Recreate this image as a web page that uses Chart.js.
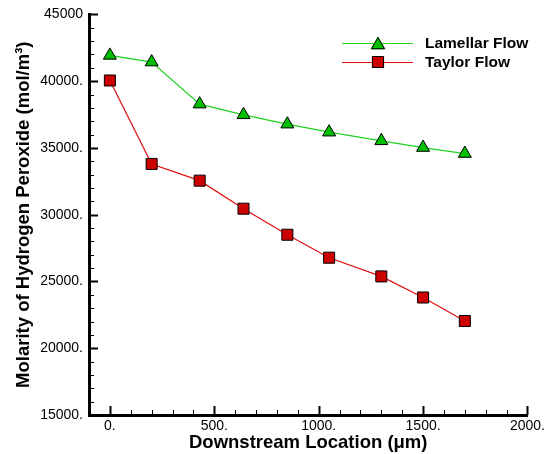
<!DOCTYPE html>
<html>
<head>
<meta charset="utf-8">
<script src="https://cdn.jsdelivr.net/npm/chart.js@4/dist/chart.umd.min.js"></script>
<style>
  html, body { margin: 0; padding: 0; background: #fff; }
  #wrap { width: 548px; height: 454px; }
</style>
</head>
<body>
<div id="wrap"><canvas id="chart"></canvas></div>
<script>
// downstream location (um) and molarity (mol/m3)
const locations = [0, 200, 430, 640, 850, 1050, 1300, 1500, 1700];
const lamellar = [41930, 41430, 38280, 37480, 36780, 36180, 35530, 35030, 34580];
const taylor = [40050, 33800, 32550, 30450, 28500, 26780, 25380, 23800, 22040];
const xTicks = [0, 500, 1000, 1500, 2000];
const yTicks = [15000, 20000, 25000, 30000, 35000, 40000, 45000];

const FONT = "'Liberation Sans', Arial, Helvetica, sans-serif";

const toPoints = (ys) => locations.map((x, i) => ({ x: x, y: ys[i] }));

// tecplot style ticks pointing into the plot
const inwardTicks = {
  id: "inwardTicks",
  afterDraw(chart) {
    const { ctx, chartArea: a, scales } = chart;
    ctx.save();
    ctx.strokeStyle = "#000";
    for (let v = 0; v <= 2000; v += 100) {
      const major = v % 500 === 0;
      const px = Math.round(scales.x.getPixelForValue(v)) + 0.5;
      ctx.lineWidth = major ? 2 : 1;
      ctx.beginPath();
      ctx.moveTo(px, a.bottom);
      ctx.lineTo(px, a.bottom - (major ? 9 : 5));
      ctx.stroke();
    }
    for (let v = 15000; v <= 45000; v += 1000) {
      const major = v % 5000 === 0;
      const py = Math.round(scales.y.getPixelForValue(v)) + 0.5;
      ctx.lineWidth = major ? 2 : 1;
      ctx.beginPath();
      ctx.moveTo(a.left, py);
      ctx.lineTo(a.left + (major ? 9 : 5), py);
      ctx.stroke();
    }
    ctx.restore();
  }
};

// legend with line through marker
const lineLegend = {
  id: "lineLegend",
  afterDraw(chart) {
    const ctx = chart.ctx;
    ctx.save();
    chart.data.datasets.forEach((ds, i) => {
      const y = 43 + i * 19;
      ctx.strokeStyle = ds.borderColor;
      ctx.lineWidth = ds.borderWidth;
      ctx.beginPath();
      ctx.moveTo(342, y + 0.5);
      ctx.lineTo(413, y + 0.5);
      ctx.stroke();
      Chart.helpers.drawPoint(ctx, {
        pointStyle: ds.pointStyle,
        radius: ds.pointRadius,
        rotation: 0,
        borderWidth: ds.pointBorderWidth
      }, 378, y + (ds.pointStyle === "triangle" ? 2 : 0));
      ctx.fillStyle = ds.pointBackgroundColor;
      ctx.strokeStyle = ds.pointBorderColor;
      ctx.lineWidth = ds.pointBorderWidth;
      ctx.fill();
      ctx.stroke();
      ctx.fillStyle = "#000";
      ctx.font = "bold 15.5px " + FONT;
      ctx.textBaseline = "middle";
      ctx.fillText(ds.label, 425, y + 1);
    });
    ctx.restore();
  }
};

new Chart(document.getElementById("chart"), {
  type: "scatter",
  data: {
    datasets: [
      {
        label: "Lamellar Flow",
        data: toPoints(lamellar),
        showLine: true,
        borderColor: "#1ed21e",
        borderWidth: 1.2,
        pointStyle: "triangle",
        pointRadius: 7.5,
        pointBackgroundColor: "#00bf00",
        pointBorderColor: "#000",
        pointBorderWidth: 1
      },
      {
        label: "Taylor Flow",
        data: toPoints(taylor),
        showLine: true,
        borderColor: "#e01010",
        borderWidth: 1.2,
        pointStyle: "rect",
        pointRadius: 7.8,
        pointBackgroundColor: "#cc0000",
        pointBorderColor: "#000",
        pointBorderWidth: 1
      }
    ]
  },
  options: {
    responsive: true,
    maintainAspectRatio: false,
    animation: false,
    layout: { padding: { top: 13, right: 20, left: 0, bottom: 0 } },
    plugins: { legend: { display: false }, tooltip: { enabled: false } },
    scales: {
      x: {
        type: "linear",
        min: -100,
        max: 2000,
        afterBuildTicks: (s) => { s.ticks = xTicks.map((v) => ({ value: v })); },
        afterFit: (s) => { s.height = 39; },
        grid: { display: false, drawTicks: false },
        border: { display: true, color: "#000", width: 3 },
        ticks: {
          color: "#000",
          padding: 3,
          font: { family: FONT, size: 14 },
          callback: (v) => v + "."
        },
        title: {
          display: true,
          text: "Downstream Location (μm)",
          color: "#000",
          font: { family: FONT, size: 18.5, weight: "bold" },
          padding: { top: 0, bottom: 0 }
        }
      },
      y: {
        min: 15000,
        max: 45000,
        afterBuildTicks: (s) => { s.ticks = yTicks.map((v) => ({ value: v })); },
        afterFit: (s) => { s.width = 89; },
        grid: { display: false, drawTicks: false },
        border: { display: true, color: "#000", width: 3 },
        ticks: {
          color: "#000",
          padding: 6,
          font: { family: FONT, size: 14 },
          callback: (v) => (v === 45000 ? String(v) : v + ".")
        },
        title: {
          display: true,
          text: "Molarity of Hydrogen Peroxide (mol/m³)",
          color: "#000",
          font: { family: FONT, size: 18.5, weight: "bold" },
          padding: { top: 13, bottom: 0 }
        }
      }
    }
  },
  plugins: [inwardTicks, lineLegend]
});
</script>
</body>
</html>
